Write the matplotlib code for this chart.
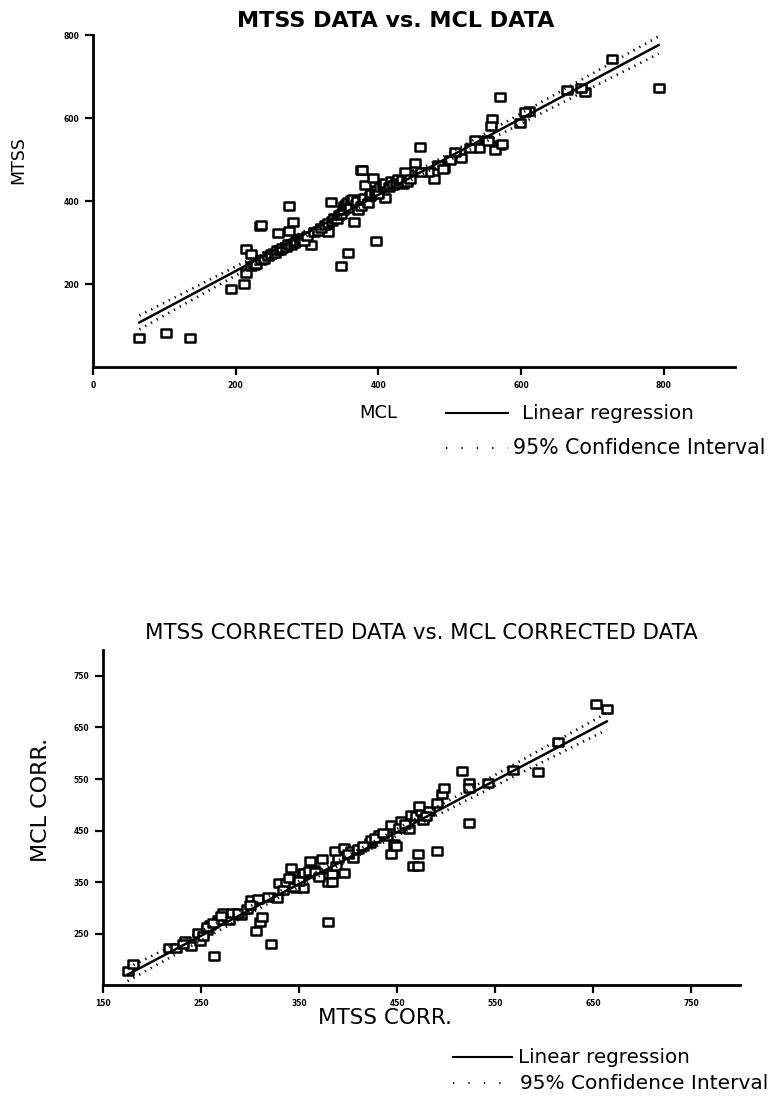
import numpy as np
import matplotlib
matplotlib.use("Agg")
import matplotlib.pyplot as plt
from matplotlib.lines import Line2D
from matplotlib.path import Path
from matplotlib.markers import MarkerStyle

plt.rcParams['font.family'] = ['DejaVu Sans']

# Top panel: MCL (x) vs MTSS (y)
mcl = [65, 103, 136, 193, 211, 214, 215, 221, 234, 236, 260, 275, 281, 275,
       347, 357, 396, 375, 377, 458, 452, 478, 410, 366, 329, 333, 381, 392,
       570, 559, 558, 727, 793, 690, 684, 665, 611, 606, 599, 571, 563, 552, 535,
       541, 529, 516, 507, 500, 492, 484, 470, 460, 442, 435, 305, 437, 490, 554, 573,
       222, 225, 228, 235, 240, 245, 250, 255, 258, 262, 265, 270, 273, 278, 282,
       285, 290, 293, 296, 300, 310, 315, 320, 325, 330, 335, 338, 342, 345, 348,
       350, 352, 355, 358, 360, 362, 365, 368, 370, 372, 375, 378, 380, 385, 388,
       390, 395, 398, 400, 403, 406, 410, 415, 418, 420, 425, 428, 430, 433, 440, 445]
mtss = [71, 81, 71, 187, 200, 227, 284, 272, 341, 343, 324, 389, 350, 329,
        244, 275, 304, 474, 476, 530, 492, 454, 408, 350, 326, 398, 440, 456,
        650, 598, 580, 742, 674, 663, 674, 667, 618, 614, 588, 536, 524, 547, 548,
        528, 528, 504, 518, 498, 480, 486, 470, 470, 465, 442, 295, 470, 478, 546, 538,
        244, 246, 248, 258, 260, 268, 272, 276, 281, 283, 288, 290, 296, 294, 298,
        303, 308, 310, 304, 316, 326, 328, 336, 343, 348, 353, 360, 358, 366, 370,
        378, 388, 393, 398, 383, 403, 406, 393, 400, 378, 388, 403, 408, 396, 413,
        418, 423, 428, 418, 433, 438, 443, 433, 448, 440, 446, 453, 443, 450, 446, 453]

# Bottom panel: MTSS corrected (x) vs MCL corrected (y)
mtss_corr = [175, 181, 217, 224, 234, 240, 249, 247, 256, 259, 267, 272, 279, 282, 291,
             263, 306, 310, 312, 321, 301, 308, 327, 330, 337, 342, 340, 349, 347, 354,
             354, 380, 361, 365, 355, 373, 379, 384, 388, 390, 396, 387, 396, 403, 405,
             380, 384, 345, 350, 422, 423, 432, 440, 447, 444, 454, 462, 464, 469, 476,
             474, 483, 472, 491, 496, 498, 516, 523, 523, 543, 523, 491, 471, 466, 471,
             444, 449, 568, 594, 614, 653, 664, 256, 262, 270, 288, 297, 232, 252, 300,
             318, 334, 360, 366, 370, 400, 410, 415, 428, 436, 452, 458, 480]
mcl_corr = [177, 192, 222, 222, 235, 227, 235, 251, 258, 267, 277, 290, 277, 290, 287,
            206, 256, 272, 282, 229, 315, 317, 319, 348, 348, 378, 358, 356, 339, 339,
            368, 273, 390, 374, 368, 394, 361, 365, 381, 397, 368, 410, 416, 410, 397,
            350, 350, 340, 352, 426, 432, 442, 439, 423, 460, 468, 453, 481, 478, 471,
            487, 487, 497, 504, 520, 533, 565, 543, 533, 543, 464, 410, 405, 381, 381,
            404, 421, 568, 564, 621, 696, 686, 262, 270, 285, 290, 298, 230, 245, 305,
            322, 335, 372, 370, 360, 405, 415, 420, 435, 445, 455, 462, 478]

top_ticks = [0, 200, 400, 600, 800]
bot_ticks = [150, 250, 350, 450, 550, 650, 750]

# wide open box marker with rounded joins
box = MarkerStyle(Path([(-1.3, -1.0), (1.3, -1.0), (1.3, 1.0), (-1.3, 1.0), (-1.3, -1.0)],
                       [Path.MOVETO, Path.LINETO, Path.LINETO, Path.LINETO, Path.CLOSEPOLY]),
                  joinstyle='round')


def fit_with_ci(x, y):
    """least squares line plus 95% confidence band of the mean"""
    x = np.asarray(x, float)
    y = np.asarray(y, float)
    n = len(x)
    b, a = np.polyfit(x, y, 1)
    resid = y - (a + b * x)
    s = np.sqrt(np.sum(resid ** 2) / (n - 2))
    xs = np.linspace(x.min(), x.max(), 100)
    se = s * np.sqrt(1.0 / n + (xs - x.mean()) ** 2 / np.sum((x - x.mean()) ** 2))
    yhat = a + b * xs
    return xs, yhat, yhat - 1.98 * se, yhat + 1.98 * se


def style_axes(ax):
    for side in ['top', 'right']:
        ax.spines[side].set_visible(False)
    for side in ['left', 'bottom']:
        ax.spines[side].set_linewidth(2)
    ax.tick_params(direction='out', length=6, width=1.6, labelsize=5.5, pad=4)
    for lab in ax.get_xticklabels() + ax.get_yticklabels():
        lab.set_fontweight('bold')


def draw_panel(ax, x, y):
    ax.plot(x, y, linestyle='none', marker=box, markersize=7.8, markeredgewidth=1.8,
            markerfacecolor='white', markeredgecolor='black')
    xs, yhat, lo, hi = fit_with_ci(x, y)
    ax.plot(xs, yhat, color='black', lw=1.8)
    ax.plot(xs, lo, color='black', lw=1.9, linestyle=(0, (0.5, 2.0)))
    ax.plot(xs, hi, color='black', lw=1.9, linestyle=(0, (0.5, 2.0)))


def draw_key(fig, x0, x1, y_line, y_dot, tx_line, tx_dot, size_dot):
    fig.add_artist(Line2D([x0, x1], [y_line, y_line], color='black', lw=1.5))
    fig.add_artist(Line2D([x0, x1], [y_dot, y_dot], color='black', lw=1.5,
                          linestyle=(0, (0.6, 6.8))))
    fig.text(tx_line, y_line, 'Linear regression', fontsize=14.3, va='center')
    fig.text(tx_dot, y_dot, '95% Confidence Interval', fontsize=size_dot, va='center')


fig = plt.figure(figsize=(7.72, 11.02), dpi=100)

ax1 = fig.add_axes([0.1205, 0.667, 0.8316, 0.301])
draw_panel(ax1, mcl, mtss)
ax1.set_xlim(0, 900)
ax1.set_ylim(0, 800)
ax1.set_xticks(top_ticks)
ax1.set_yticks(top_ticks[1:])
style_axes(ax1)
ax1.set_title('MTSS DATA vs. MCL DATA', fontsize=16, fontweight='bold', pad=6, x=0.472)
ax1.set_xlabel('MCL', fontsize=13, labelpad=10, x=0.444)
ax1.set_ylabel('MTSS', fontsize=12.5, labelpad=26, y=0.623)
draw_key(fig, 0.578, 0.658, 0.625, 0.5935, 0.676, 0.6645, 14.8)

ax2 = fig.add_axes([0.1335, 0.106, 0.8251, 0.304])
draw_panel(ax2, mtss_corr, mcl_corr)
ax2.set_xlim(150, 800)
ax2.set_ylim(150, 800)
ax2.set_xticks(bot_ticks)
ax2.set_yticks(bot_ticks[1:])
style_axes(ax2)
ax2.set_title('MTSS CORRECTED DATA vs. MCL CORRECTED DATA', fontsize=15.4, pad=8)
ax2.set_xlabel('MTSS CORR.', fontsize=15.5, labelpad=0, x=0.443)
ax2.set_ylabel('MCL CORR.', fontsize=16, labelpad=16, y=0.552)
draw_key(fig, 0.587, 0.663, 0.0408, 0.0172, 0.671, 0.6736, 14.5)

fig.savefig('out.png', dpi=100)
